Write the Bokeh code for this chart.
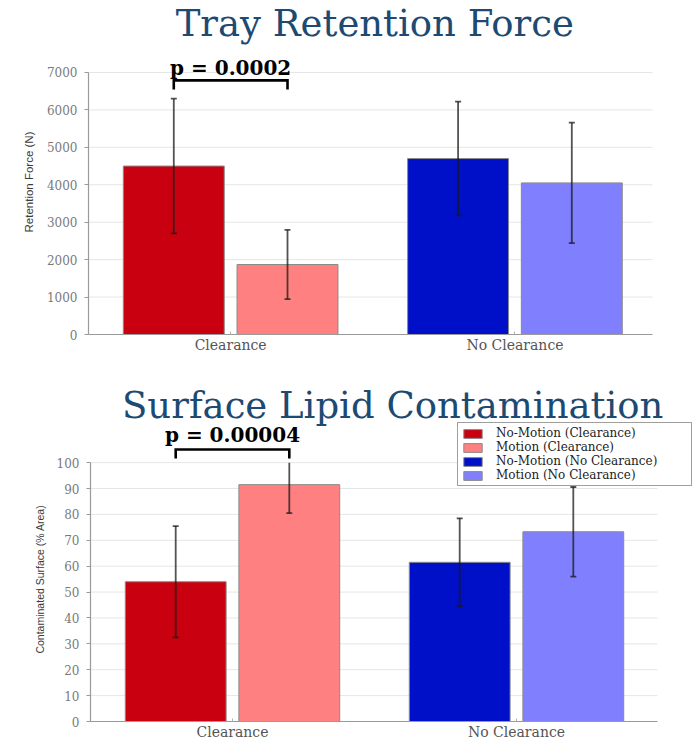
import math
from bokeh.plotting import figure
from bokeh.models import ColumnDataSource, FixedTicker, Range1d, Label, Legend, LegendItem
from bokeh.layouts import column, row
from bokeh.embed import file_html
from bokeh.resources import INLINE

# Groups on the x axis and the four bar series
groups = ["Clearance", "No Clearance"]
series = ["No-Motion (Clearance)", "Motion (Clearance)",
          "No-Motion (No Clearance)", "Motion (No Clearance)"]
series_group = [0, 0, 1, 1]
series_side = [-1, 1, -1, 1]
colors = ["#C8000F", "#FF8080", "#0010C8", "#8080FF"]

# Tray retention force (N): mean and standard deviation
force_mean = [4500, 1870, 4700, 4050]
force_sd = [1800, 925, 1520, 1610]
force_ticks = [0, 1000, 2000, 3000, 4000, 5000, 6000, 7000]
force_p = "p = 0.0002"

# Contaminated surface (% area): mean and standard deviation
lipid_mean = [54.0, 91.5, 61.5, 73.3]
lipid_sd = [21.5, 11.0, 17.0, 17.3]
lipid_ticks = [0, 10, 20, 30, 40, 50, 60, 70, 80, 90, 100]
lipid_p = "p = 0.00004"

OFFSET = 0.2
BAR_W = 0.355
TITLE_COLOR = "#1D4A72"
SERIF = "DejaVu Serif"


def label_strip(text, size, width, height, cx, start_from_top):
    # narrow canvas carrying the vertical axis title (pixel coordinates);
    # the text starts at its lower end and reads upwards
    s = figure(width=width, height=height, output_backend="svg", toolbar_location=None,
               x_range=Range1d(0, width), y_range=Range1d(0, height),
               x_axis_type=None, y_axis_type=None, min_border=0,
               outline_line_color=None)
    s.grid.visible = False
    s.border_fill_color = "white"
    s.background_fill_color = "white"
    s.add_layout(Label(x=cx, y=height - start_from_top, text=text, angle=math.pi / 2,
                       text_align="left", text_baseline="middle",
                       text_font="Liberation Sans", text_font_size=size,
                       text_color="#3a3a3a"))
    return s


def make_panel(title, means, sds, ticks, y_end, x_end, grid_end, upper_limit, ptext,
               bracket_top, bracket_leg, ptext_y, title_x, title_y, width, height,
               border_left, border_bottom, with_legend=False):
    # the frame reaches the top and right edges so titles and legend stay inside it
    p = figure(width=width, height=height, output_backend="svg",
               toolbar_location=None,
               x_range=Range1d(-0.5, x_end), y_range=Range1d(0, y_end),
               min_border_left=border_left, min_border_right=0,
               min_border_top=0, min_border_bottom=border_bottom)
    p.outline_line_color = None
    p.background_fill_color = "white"
    p.border_fill_color = "white"

    # y axis
    yax = p.yaxis[0]
    yax.ticker = FixedTicker(ticks=ticks)
    yax.bounds = (ticks[0], ticks[-1])
    yax.axis_line_color = "#9a9a9a"
    yax.axis_line_width = 1.2
    yax.major_tick_line_color = "#9a9a9a"
    yax.major_tick_out = 4
    yax.major_tick_in = 0
    yax.minor_tick_line_color = None
    yax.major_label_text_font = SERIF
    yax.major_label_text_font_size = "12px"
    yax.major_label_text_color = "#7a7a7a"
    yax.major_label_standoff = 7

    # x axis with the group names
    xax = p.xaxis[0]
    xax.ticker = FixedTicker(ticks=list(range(len(groups))))
    xax.major_label_overrides = {i: g for i, g in enumerate(groups)}
    xax.bounds = (-0.5, grid_end)
    xax.axis_line_color = "#9a9a9a"
    xax.axis_line_width = 1.2
    xax.major_tick_line_color = "#b0b0b0"
    xax.major_tick_in = 3
    xax.major_tick_out = 0
    xax.minor_tick_line_color = None
    xax.major_label_text_font = SERIF
    xax.major_label_text_font_size = "14px"
    xax.major_label_text_color = "#555555"
    xax.major_label_standoff = 2

    # horizontal grid lines, only across the plotting area
    p.xgrid.grid_line_color = None
    p.ygrid.grid_line_color = None
    p.segment(x0=[-0.5] * len(ticks), y0=ticks, x1=[grid_end] * len(ticks), y1=ticks,
              line_color="#e6e6e6", line_width=1, level="underlay")

    # bars, one renderer per series
    xs = [g + s * OFFSET for g, s in zip(series_group, series_side)]
    renderers = []
    for i, name in enumerate(series):
        src = ColumnDataSource(dict(x=[xs[i]], top=[means[i]]))
        r = p.vbar(x="x", top="top", width=BAR_W, bottom=0, source=src,
                   fill_color=colors[i], line_color="#8a8a8a", line_width=1)
        renderers.append(r)

    # error bars (mean ± sd, limited to the scale maximum where one applies)
    lows = [m - s for m, s in zip(means, sds)]
    highs_raw = [m + s for m, s in zip(means, sds)]
    highs = [min(h, upper_limit) if upper_limit is not None else h for h in highs_raw]
    p.segment(x0=xs, y0=lows, x1=xs, y1=highs, line_color="#1a1a1a",
              line_alpha=0.75, line_width=1.8)
    cap_x = xs + [x for x, h, hr in zip(xs, highs, highs_raw) if h == hr]
    cap_y = lows + [h for h, hr in zip(highs, highs_raw) if h == hr]
    p.scatter(x=cap_x, y=cap_y, marker="dash", size=6, line_color="#1a1a1a",
              line_alpha=0.75, line_width=1.8)

    # significance bracket between the two Clearance bars
    bx0, bx1 = xs[0], xs[1]
    p.line(x=[bx0, bx0, bx1, bx1], y=[bracket_leg, bracket_top, bracket_top, bracket_leg],
           line_color="black", line_width=2.6, line_join="miter")
    p.add_layout(Label(x=(bx0 + bx1) / 2, y=ptext_y, text=ptext, text_align="center",
                       text_baseline="middle", text_font=SERIF, text_font_style="bold",
                       text_font_size="20px", text_color="black"))

    # chart title
    p.add_layout(Label(x=title_x, y=title_y, text=title, text_align="center",
                       text_baseline="middle", text_font=SERIF, text_font_size="37px",
                       text_color=TITLE_COLOR))

    if with_legend:
        legend = Legend(items=[LegendItem(label=n, renderers=[r]) for n, r in zip(series, renderers)],
                        location=(367, 235), orientation="vertical")
        legend.border_line_color = "#404040"
        legend.border_line_width = 1.5
        legend.background_fill_color = "white"
        legend.background_fill_alpha = 1
        legend.label_text_font = SERIF
        legend.label_text_font_size = "12px"
        legend.label_text_color = "#222222"
        legend.glyph_width = 23
        legend.glyph_height = 11
        legend.label_height = 12
        legend.label_width = 192
        legend.spacing = 0
        legend.padding = 3
        legend.margin = 0
        legend.label_standoff = 12
        p.add_layout(legend)
    return p


TOP_STRIP = 40
BOTTOM_STRIP = 50

top = make_panel("Tray Retention Force", force_mean, force_sd, force_ticks,
                 y_end=8923, x_end=1.6386, grid_end=1.4838, upper_limit=None,
                 ptext=force_p, bracket_top=6790, bracket_leg=6545, ptext_y=7110,
                 title_x=0.507, title_y=8310, width=696 - TOP_STRIP, height=370,
                 border_left=88 - TOP_STRIP, border_bottom=36)
top_label = label_strip("Retention Force (N)", "11.5px", TOP_STRIP, 370, 28, 257)

bottom = make_panel("Surface Lipid Contamination", lipid_mean, lipid_sd, lipid_ticks,
                    y_end=135.6, x_end=1.6338, grid_end=1.4965, upper_limit=100,
                    ptext=lipid_p, bracket_top=105.1, bracket_leg=101.6, ptext_y=110.8,
                    title_x=0.564, title_y=122.2, width=696 - BOTTOM_STRIP, height=372,
                    border_left=90 - BOTTOM_STRIP, border_bottom=17, with_legend=True)
bottom_label = label_strip("Contaminated Surface (% Area)", "10.5px", BOTTOM_STRIP, 372, 39, 300)

layout = column(row(top_label, top, spacing=0), row(bottom_label, bottom, spacing=0), spacing=0)
open("out.html", "w").write(file_html(layout, INLINE))
